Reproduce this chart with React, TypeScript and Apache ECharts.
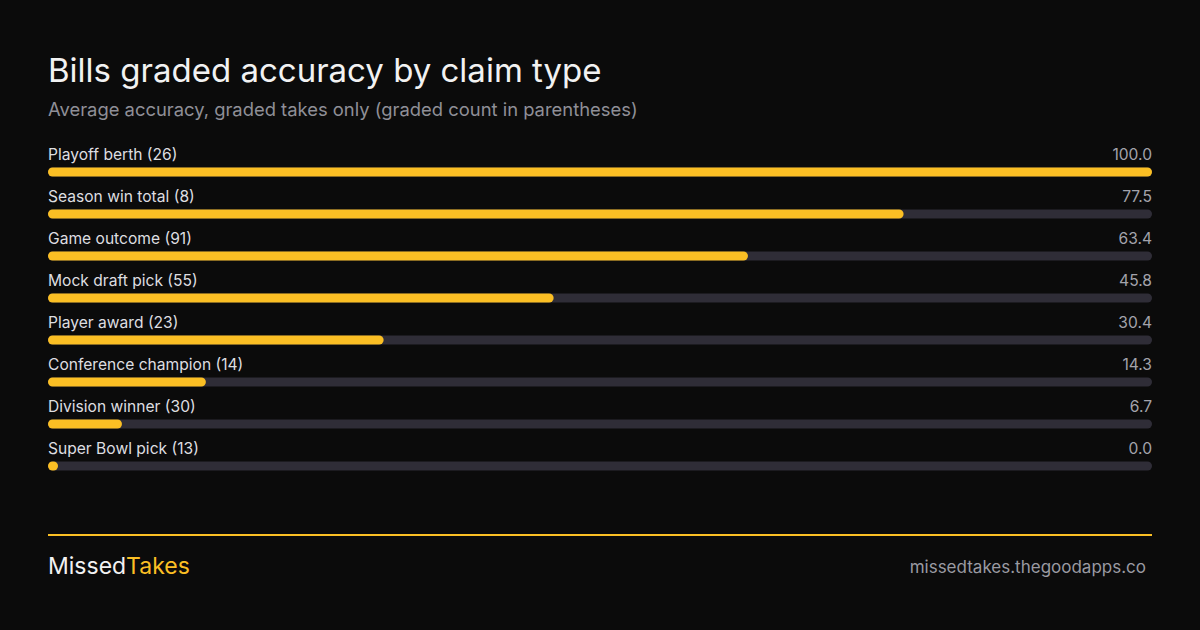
import React, { useEffect, useRef } from "react";
import * as echarts from "echarts";

const categories = [
  "Playoff berth (26)",
  "Season win total (8)",
  "Game outcome (91)",
  "Mock draft pick (55)",
  "Player award (23)",
  "Conference champion (14)",
  "Division winner (30)",
  "Super Bowl pick (13)",
];
const accuracy = [100.0, 77.5, 63.4, 45.8, 30.4, 14.3, 6.7, 0.0];
const fullScale = categories.map(() => 100);

const FONT = "Inter, 'Noto Sans', sans-serif";
const YELLOW = "#fbbf24";
const TRACK = "#2f2d37";
const BG = "#0b0b0b";

export default function App() {
  const ref = useRef<HTMLDivElement>(null);
  useEffect(() => {
    if (!ref.current) return;
    const chart = echarts.init(ref.current, undefined, { renderer: "svg" });
    chart.setOption({
      animation: false,
      backgroundColor: BG,
      grid: { left: 48, right: 48, top: 151, bottom: 143 },
      xAxis: { type: "value", min: 0, max: 100, show: false },
      yAxis: {
        type: "category",
        data: categories,
        inverse: true,
        show: false,
      },
      series: [
        {
          type: "bar",
          data: fullScale,
          barWidth: 9,
          barGap: "-100%",
          itemStyle: { color: TRACK, borderRadius: 4.5 },
          label: {
            show: true,
            position: [0, -13],
            align: "left",
            verticalAlign: "middle",
            formatter: (p: any) => categories[p.dataIndex],
            color: "#dedee0",
            fontFamily: FONT,
            fontSize: 15.6,
          },
          silent: true,
        },
        {
          type: "bar",
          data: accuracy,
          barWidth: 9,
          barGap: "-100%",
          barMinHeight: 10,
          itemStyle: { color: YELLOW, borderRadius: 4.5 },
          silent: true,
        },
        {
          type: "bar",
          data: fullScale,
          barWidth: 9,
          barGap: "-100%",
          itemStyle: { color: "rgba(0,0,0,0)" },
          label: {
            show: true,
            position: ["100%", -13],
            align: "right",
            verticalAlign: "middle",
            formatter: (p: any) => accuracy[p.dataIndex].toFixed(1),
            color: "#a3a3ab",
            fontFamily: FONT,
            fontSize: 15.6,
          },
          silent: true,
        },
      ],
      graphic: [
        {
          type: "text",
          left: 48,
          top: 53,
          style: {
            text: "Bills graded accuracy by claim type",
            fill: "#f2f2f2",
            font: `400 33px ${FONT}`,
          },
        },
        {
          type: "text",
          left: 48,
          top: 100,
          style: {
            text: "Average accuracy, graded takes only (graded count in parentheses)",
            fill: "#8f8f97",
            font: `400 18.4px ${FONT}`,
          },
        },
        {
          type: "rect",
          shape: { x: 48, y: 534, width: 1104, height: 2 },
          style: { fill: YELLOW },
        },
        {
          type: "text",
          left: 48,
          top: 554,
          style: {
            text: "{a|Missed}{b|Takes}",
            rich: {
              a: { fill: "#f2f2f2", font: `400 23px ${FONT}` },
              b: { fill: YELLOW, font: `400 23px ${FONT}` },
            },
          },
        },
        {
          type: "text",
          right: 54,
          top: 558,
          style: {
            text: "missedtakes.thegoodapps.co",
            fill: "#9a9aa2",
            font: `400 17px ${FONT}`,
          },
        },
      ],
    });
    return () => chart.dispose();
  }, []);
  return (
    <div
      ref={ref}
      style={{ position: "fixed", left: 0, top: 0, width: 1200, height: 630, background: BG }}
    />
  );
}
